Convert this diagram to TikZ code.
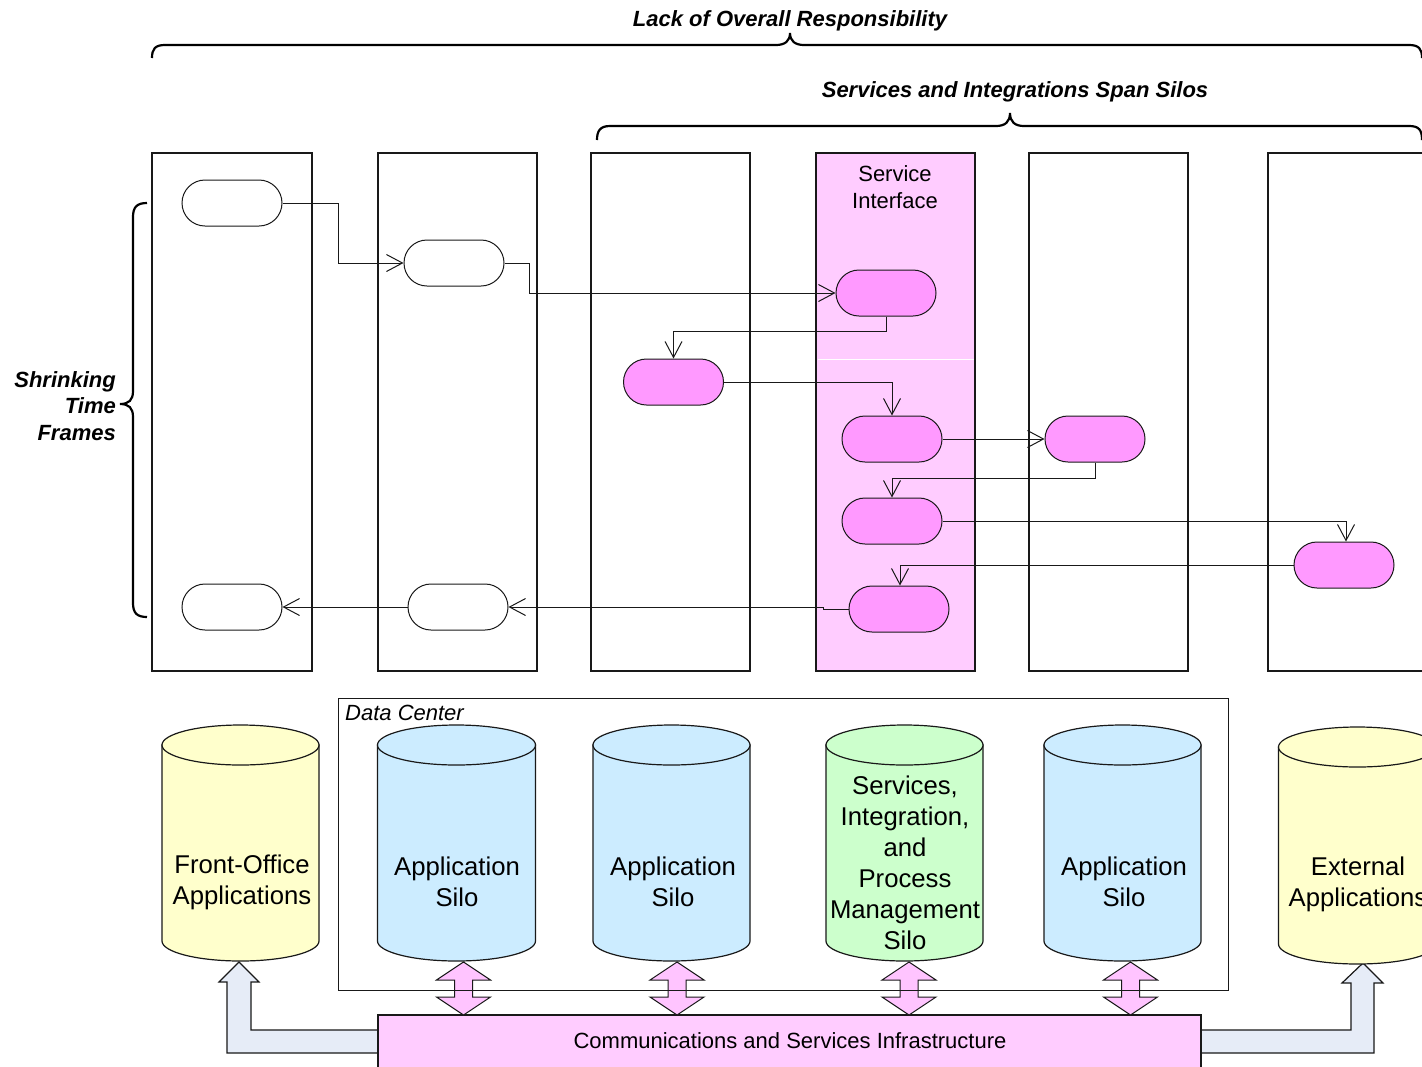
\documentclass[tikz,border=0pt]{standalone}
\usepackage{fontspec}
\setmainfont{Liberation Sans}
\usetikzlibrary{arrows.meta}
\definecolor{lanepink}{RGB}{255,204,255}
\definecolor{actpink}{RGB}{255,153,255}
\definecolor{cylblue}{RGB}{204,236,255}
\definecolor{cylyellow}{RGB}{255,255,204}
\definecolor{cylgreen}{RGB}{204,255,204}
\definecolor{lblue}{RGB}{230,236,247}
\definecolor{dblpink}{RGB}{255,196,255}
\definecolor{edge}{RGB}{25,25,25}
\newcommand\drawcyl[5]{%
  \filldraw[cyl,fill=#5] (#1-#2,#3) -- (#1-#2,#4)
     arc[start angle=180,end angle=360,x radius=#2 pt,y radius=20pt]
     -- (#1+#2,#3) -- cycle;
  \filldraw[cyl,fill=#5] (#1,#3) ellipse[x radius=#2 pt,y radius=20pt];
}
\newcommand\dblarrow[1]{%
  \filldraw[dbl] (#1,962) -- (#1+27,980) -- (#1+9,980) -- (#1+9,997) -- (#1+27,997)
    -- (#1,1015) -- (#1-27,997) -- (#1-9,997) -- (#1-9,980) -- (#1-27,980) -- cycle;
}
\begin{document}
\begin{tikzpicture}[x=1pt,y=-1pt,
  lane/.style={draw=edge,line width=1.05pt},
  act/.style={draw=edge,line width=1pt,rounded corners=23pt,minimum width=100pt,
              minimum height=46pt,inner sep=0pt},
  flow/.style={draw=edge,line width=1pt,-{Straight Barb[length=16pt,width=17pt,line width=1pt]}},
  bracepath/.style={draw=black,line width=2.2pt},
  lbl/.style={font=\fontsize{22}{26.5}\selectfont,inner sep=0pt,align=center},
  blbl/.style={font=\fontsize{22}{26.5}\selectfont\bfseries\itshape,inner sep=0pt},
  cyl/.style={draw=edge,line width=1.2pt},
  cyltxt/.style={font=\fontsize{25.7}{31}\selectfont,inner sep=0pt,align=center},
  dbl/.style={draw=edge,line width=1pt,fill=dblpink},
  larrow/.style={draw=edge,line width=1.2pt,fill=lblue},
]
\clip (0,0) rectangle (1422,1066);
\fill[white] (0,0) rectangle (1422,1066);

% ---- top braces and labels
\node[blbl] (lack) at (790,21) {Lack of Overall Responsibility};
\draw[bracepath] (152,58) .. controls (152,49) and (155,45) .. (165,45) -- (776,45)
  .. controls (785,45) and (790,41) .. (790,33) .. controls (790,41) and (795,45) .. (804,45)
  -- (1409,45) .. controls (1419,45) and (1422,49) .. (1422,58);
\node[blbl] (span) at (1015,92) {Services and Integrations Span Silos};
\draw[bracepath] (597,140) .. controls (597,131) and (600,126) .. (610,126) -- (996,126)
  .. controls (1005,126) and (1010,122) .. (1010,113) .. controls (1010,122) and (1015,126) .. (1024,126)
  -- (1409,126) .. controls (1419,126) and (1422,130) .. (1422,140);

% ---- left brace
\node[blbl,align=right,anchor=east] (shrink) at (116,406) {Shrinking\\Time\\Frames};
\draw[bracepath] (147,203) .. controls (137,203) and (133,207) .. (133,217) -- (133,391)
  .. controls (133,400) and (129,404) .. (120,404) .. controls (129,404) and (133,408) .. (133,417)
  -- (133,603) .. controls (133,613) and (137,617) .. (147,617);

% ---- swimlanes
\draw[lane] (152,153) rectangle (312,671);
\draw[lane] (378,153) rectangle (537,671);
\draw[lane] (591,153) rectangle (750,671);
\filldraw[lane,fill=lanepink] (816,153) rectangle (975,671);
\draw[white,line width=1pt] (817.5,359) -- (973.5,359);
\draw[lane] (1029,153) rectangle (1188,671);
\draw[lane] (1268,153) rectangle (1445,671);
\node[lbl] (si) at (895,187) {Service\\Interface};

% ---- activities
\node[act,fill=white] (a1) at (232,203) {};
\node[act,fill=white] (a2) at (454,263) {};
\node[act,fill=actpink] (s1) at (886,293) {};
\node[act,fill=actpink] (b1) at (673.5,382) {};
\node[act,fill=actpink] (s2) at (892,439) {};
\node[act,fill=actpink] (c1) at (1095,439) {};
\node[act,fill=actpink] (s3) at (892,521) {};
\node[act,fill=actpink] (e1) at (1344,565) {};
\node[act,fill=actpink] (s4) at (899,609) {};
\node[act,fill=white] (a4) at (458,607) {};
\node[act,fill=white] (a3) at (232,607) {};

% ---- flows
\draw[flow] (a1.east) -- ++(56,0) |- (a2.west);
\draw[flow] (a2.east) -- ++(25,0) |- (s1.west);
\draw[flow] (s1.south) -- ++(0,15) -| (b1.north);
\draw[flow] (b1.east) -| (s2.north);
\draw[flow] (s2.east) -- (c1.west);
\draw[flow] (c1.south) -- ++(0,16) -| (s3.north);
\draw[flow] (s3.east) -| ([xshift=2pt]e1.north);
\draw[flow] (e1.west) -| ([xshift=1pt]s4.north);
\draw[flow] (s4.west) -- ++(-25,0) |- (a4.east);
\draw[flow] (a4.west) -- (a3.east);

% ---- infrastructure L arrows
\filldraw[larrow] (390,1030) -- (251,1030) -- (251,982) -- (259,982) -- (239,962)
  -- (219,982) -- (227,982) -- (227,1053) -- (390,1053);
\filldraw[larrow] (1190,1030) -- (1351,1030) -- (1351,983) -- (1342,983) -- (1363,963)
  -- (1383,983) -- (1374,983) -- (1374,1053) -- (1190,1053);

% ---- communications bar
\filldraw[draw=edge,line width=1.2pt,fill=lanepink] (378,1015) rectangle (1201,1080);
\node[lbl] (comm) at (790,1041) {Communications and Services Infrastructure};

% ---- cylinders
\drawcyl{240.5}{78.5}{745}{941}{cylyellow}
\drawcyl{456.5}{79}{745}{941}{cylblue}
\drawcyl{671.5}{78.5}{745}{941}{cylblue}
\drawcyl{904.5}{78.5}{745}{941}{cylgreen}
\drawcyl{1122.5}{78.5}{745}{941}{cylblue}
\drawcyl{1357.5}{79}{747}{944}{cylyellow}
\node[cyltxt] (fo) at (242,882) {Front-Office\\Applications};
\node[cyltxt] (as1) at (457,882) {Application\\Silo};
\node[cyltxt] (as2) at (673,882) {Application\\Silo};
\node[cyltxt] (sipm) at (905,863) {Services,\\Integration,\\and\\Process\\Management\\Silo};
\node[cyltxt] (as3) at (1124,882) {Application\\Silo};
\node[cyltxt] (ext) at (1358,884) {External\\Applications};

% ---- double arrows
\dblarrow{463.5}
\dblarrow{677}
\dblarrow{909}
\dblarrow{1130.5}

% ---- data center
\draw[draw=edge,line width=1pt] (338,698) rectangle (1228,990);
\node[font=\fontsize{22}{26.5}\selectfont\itshape,inner sep=0pt,anchor=west] (dc) at (345,713) {Data Center};
\end{tikzpicture}
\end{document}
